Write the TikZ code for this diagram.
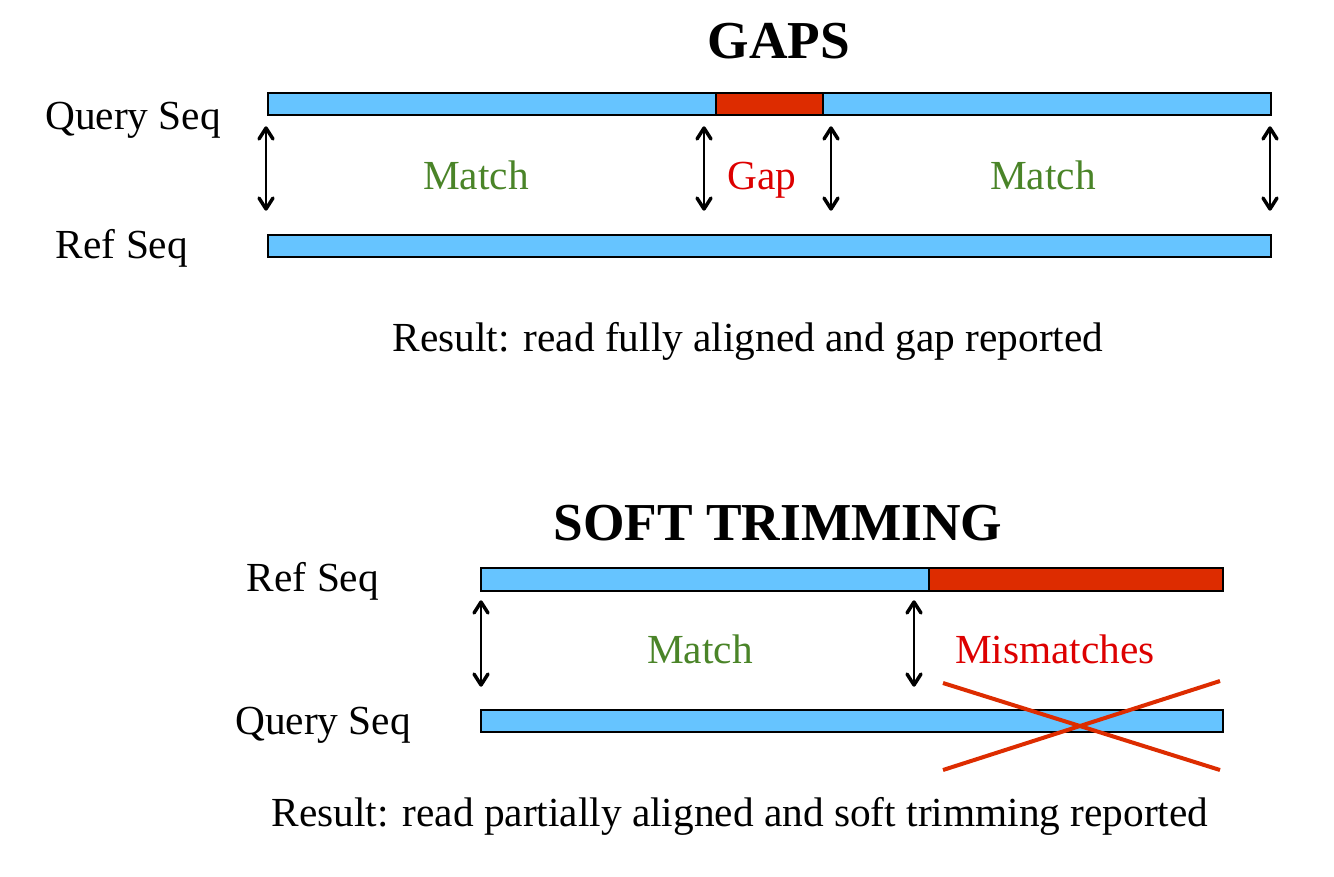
\documentclass[tikz,border=0pt]{standalone}
\usepackage{fontspec}
\setmainfont{Liberation Serif}
\usetikzlibrary{calc}
\definecolor{seqblue}{HTML}{66C4FF}
\definecolor{seqred}{HTML}{DD2C00}
\definecolor{txtred}{HTML}{DD0000}
\definecolor{txtgreen}{HTML}{4A8428}
\tikzset{
  bar/.style={draw=black, line width=1pt, fill=seqblue},
  redbar/.style={draw=black, line width=1pt, fill=seqred},
  lbl/.style={font=\fontsize{31}{36}\selectfont, inner sep=0pt, anchor=base},
  ttl/.style={font=\fontsize{40}{46}\selectfont\bfseries, inner sep=0pt, anchor=base},
  shaft/.style={line width=1.1pt},
  head/.style={line width=2.6pt, line cap=round, line join=round},
  cross/.style={draw=seqred, line width=3pt},
}
% double-headed vertical link between two named coordinates (top, bottom)
\newcommand{\mylink}[2]{%
  \draw[shaft] ($(#1)+(0,2)$) -- ($(#2)+(0,-2)$);
  \draw[head] ($(#1)+(-7,11)$) -- (#1) -- ($(#1)+(7,11)$);
  \draw[head] ($(#2)+(-7,-11)$) -- (#2) -- ($(#2)+(7,-11)$);
}
\begin{document}
\begin{tikzpicture}[x=0.75pt,y=-0.75pt]
\useasboundingbox (0,0) rectangle (1334,876);
% ---------- GAPS ----------
\node[ttl] (t1) at (779,58) {GAPS};
\node[lbl] (q1) at (133,129) {Query Seq};
\node[lbl] (r1) at (122,258) {Ref Seq};
\draw[bar] (268,93) rectangle (1271,115);
\draw[redbar] (716,93) rectangle (823,115);
\draw[bar] (268,235) rectangle (1271,257);
\coordinate (a1t) at (266,128); \coordinate (a1b) at (266,209);
\coordinate (a2t) at (704,128); \coordinate (a2b) at (704,209);
\coordinate (a3t) at (831,128); \coordinate (a3b) at (831,209);
\coordinate (a4t) at (1270,128); \coordinate (a4b) at (1270,209);
\mylink{a1t}{a1b}
\mylink{a2t}{a2b}
\mylink{a3t}{a3b}
\mylink{a4t}{a4b}
\node[lbl, text=txtgreen] (m1) at (476,189) {Match};
\node[lbl, text=txtred] (g1) at (762,189) {Gap};
\node[lbl, text=txtgreen] (m2) at (1043,189) {Match};
\node[lbl] (res1) at (748,351) {Result: read fully aligned and gap reported};
% ---------- SOFT TRIMMING ----------
\node[ttl] (t2) at (778,540) {SOFT TRIMMING};
\node[lbl] (r2) at (313,591) {Ref Seq};
\node[lbl] (q2) at (323,734) {Query Seq};
\draw[bar] (481,568) rectangle (1223,591);
\draw[redbar] (929,568) rectangle (1223,591);
\draw[bar] (481,710) rectangle (1223,732);
\coordinate (b1t) at (481,602); \coordinate (b1b) at (481,685);
\coordinate (b2t) at (914,602); \coordinate (b2b) at (914,685);
\mylink{b1t}{b1b}
\mylink{b2t}{b2b}
\node[lbl, text=txtgreen] (m3) at (700,663) {Match};
\node[lbl, text=txtred] (mm) at (1055,663) {Mismatches};
\coordinate (c1) at (943,683); \coordinate (c2) at (1220,770);
\coordinate (c3) at (943,770); \coordinate (c4) at (1220,681);
\draw[cross] (c1) -- (c2);
\draw[cross] (c3) -- (c4);
\node[lbl] (res2) at (740,826) {Result: read partially aligned and soft trimming reported};
\end{tikzpicture}
\end{document}
